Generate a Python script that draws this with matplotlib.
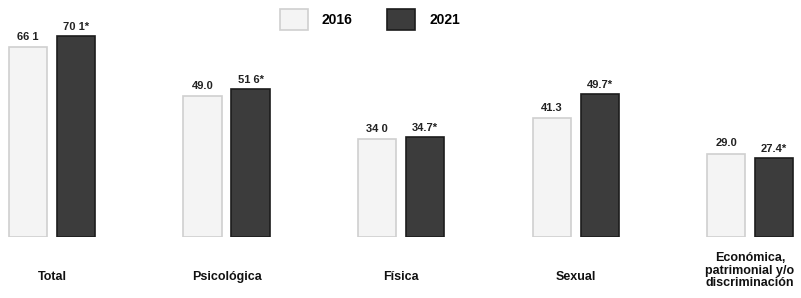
import matplotlib.pyplot as plt
import numpy as np

# Data
categories = ["Total", "Psicológica", "Física", "Sexual",
              "Económica,\npatrimonial y/o\ndiscriminación"]
vals_2016 = [66.1, 49.0, 34.0, 41.3, 29.0]
vals_2021 = [70.1, 51.6, 34.7, 49.7, 27.4]
labels_2016 = ["66 1", "49.0", "34 0", "41.3", "29.0"]
labels_2021 = ["70 1*", "51 6*", "34.7*", "49.7*", "27.4*"]

plt.rcParams['font.family'] = ['Liberation Sans', 'DejaVu Sans']

fig = plt.figure(figsize=(8.01, 2.98), dpi=100)
ax = fig.add_axes([0, 61/298, 1, 237/298])

x = np.arange(len(categories))
width = 0.218
off = 0.1375

c16 = "#f4f4f4"
c21 = "#3c3c3c"

b1 = ax.bar(x - off, vals_2016, width, color=c16, edgecolor="#cfcfcf", linewidth=1.2, label="2016")
b2 = ax.bar(x + off, vals_2021, width, color=c21, edgecolor="#1c1c1c", linewidth=1.2, label="2021")

for i in range(len(x)):
    ax.annotate(labels_2016[i], (x[i] - off, vals_2016[i]), xytext=(0, 4), textcoords="offset points",
                ha="center", va="bottom", fontsize=8, fontweight="bold", color="#222222")
    ax.annotate(labels_2021[i], (x[i] + off, vals_2021[i]), xytext=(0, 3), textcoords="offset points",
                ha="center", va="bottom", fontsize=8, fontweight="bold", color="#222222")

for i, cat in enumerate(categories):
    y = -0.143 if "\n" in cat else -0.169
    ax.text(x[i], y, cat, transform=ax.get_xaxis_transform(), ha="center", va="center",
            fontsize=9, fontweight="bold", color="#111111", linespacing=1.05)

ax.set_xlim(-0.298, 4.292)
ax.set_ylim(0, 82.6)
ax.axis("off")

fig.legend(handles=[b1, b2], labels=["2016", "2021"], loc="center", bbox_to_anchor=(0.462, 0.935),
           ncol=2, frameon=False, handlelength=2.0, handleheight=1.9, columnspacing=2.5,
           handletextpad=1.0, prop={"weight": "bold", "size": 10})

fig.savefig("out.png", dpi=100)
